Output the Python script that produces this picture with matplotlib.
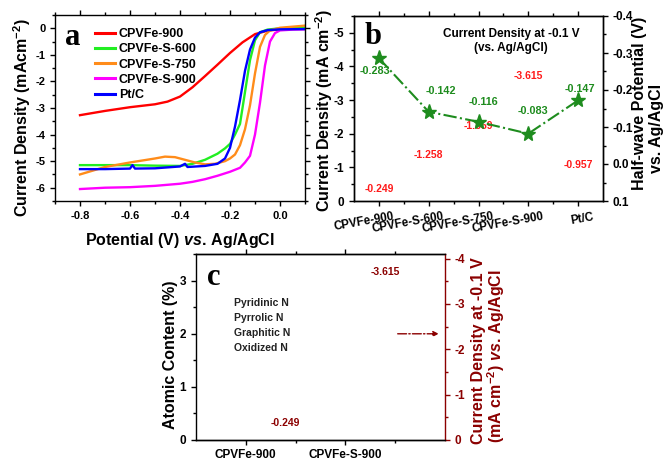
import matplotlib
matplotlib.use('Agg')
import matplotlib.pyplot as plt
from matplotlib.ticker import MultipleLocator
from matplotlib.transforms import ScaledTranslation

plt.rcParams['font.family'] = ['Liberation Sans', 'DejaVu Sans']
plt.rcParams['font.weight'] = 'bold'
plt.rcParams['axes.linewidth'] = 1.0
plt.rcParams['mathtext.fontset'] = 'custom'
plt.rcParams['mathtext.rm'] = 'Liberation Sans:bold'
plt.rcParams['mathtext.bf'] = 'Liberation Sans:bold'
plt.rcParams['mathtext.it'] = 'Liberation Sans:italic:bold'

# ---- panel a: LSV curves (potential V vs. Ag/AgCl, current mA cm-2) ----
E_900 = [-0.8, -0.7, -0.6, -0.5, -0.45, -0.4, -0.35, -0.3, -0.25, -0.2, -0.15, -0.1, -0.05, 0.0, 0.05, 0.1]
J_900 = [-3.27, -3.11, -2.97, -2.86, -2.76, -2.57, -2.22, -1.8, -1.37, -0.93, -0.53, -0.22, -0.09, -0.04, -0.01, 0.01]

E_S600 = [-0.8, -0.6, -0.5, -0.4, -0.35, -0.3, -0.25, -0.22, -0.2, -0.18, -0.16, -0.15, -0.14, -0.13, -0.12, -0.1, -0.08, -0.05, 0.0, 0.1]
J_S600 = [-5.15, -5.15, -5.17, -5.18, -5.1, -4.95, -4.72, -4.52, -4.35, -4.0, -3.6, -3.0, -2.4, -1.8, -1.2, -0.45, -0.15, -0.05, 0.0, 0.02]

E_S750 = [-0.8, -0.7, -0.6, -0.5, -0.46, -0.42, -0.38, -0.34, -0.3, -0.26, -0.22, -0.2, -0.18, -0.16, -0.14, -0.12, -0.1, -0.08, -0.06, -0.04, 0.0, 0.05, 0.1]
J_S750 = [-5.5, -5.22, -5.05, -4.9, -4.83, -4.85, -4.95, -5.05, -5.12, -5.1, -5.0, -4.9, -4.75, -4.4, -3.8, -2.9, -1.7, -0.7, -0.25, -0.08, 0.02, 0.06, 0.1]

E_S900 = [-0.8, -0.7, -0.6, -0.5, -0.4, -0.35, -0.3, -0.25, -0.2, -0.16, -0.14, -0.12, -0.1, -0.08, -0.06, -0.04, -0.02, 0.0, 0.05, 0.1]
J_S900 = [-6.05, -6.0, -5.98, -5.93, -5.85, -5.78, -5.68, -5.55, -5.4, -5.25, -5.05, -4.8, -4.0, -2.8, -1.4, -0.5, -0.18, -0.08, -0.05, -0.04]

E_PTC = [-0.8, -0.7, -0.6, -0.59, -0.58, -0.5, -0.4, -0.38, -0.37, -0.3, -0.25, -0.22, -0.2, -0.18, -0.16, -0.14, -0.12, -0.1, -0.08, -0.05, 0.0, 0.1]
J_PTC = [-5.3, -5.3, -5.28, -5.15, -5.28, -5.27, -5.2, -5.1, -5.22, -5.18, -5.1, -4.9, -4.5, -3.7, -2.7, -1.6, -0.8, -0.35, -0.15, -0.07, -0.04, -0.03]

CURVE_NAMES = ['CPVFe-900', 'CPVFe-S-600', 'CPVFe-S-750', 'CPVFe-S-900', 'Pt/C']
CURVE_COLORS = ['#ff0000', '#22ee22', '#ff8c1a', '#ff00ff', '#0000ff']

# ---- panel b: current density at -0.1 V and half-wave potential ----
SAMPLES = ['CPVFe-900', 'CPVFe-S-600', 'CPVFe-S-750', 'CPVFe-S-900', 'Pt/C']
CD_01V = [-0.249, -1.258, -1.859, -3.615, -0.957]
E_HALF = [-0.286, -0.141, -0.114, -0.082, -0.172]
E_HALF_LABELS = ['-0.283', '-0.142', '-0.116', '-0.083', '-0.147']

# ---- panel c ----
C_SAMPLES = ['CPVFe-900', 'CPVFe-S-900']
C_CD = [-0.249, -3.615]
N_TYPES = ['Pyridinic N', 'Pyrrolic N', 'Graphitic N', 'Oxidized N']

DARKRED = '#8b0000'
GREEN = '#1e8c1e'
TICK_FS = 8.5
LABEL_FS = 11.5


def ticks_box(ax, right=True):
    ax.tick_params(which='both', direction='out', width=1.0, labelsize=TICK_FS)
    ax.tick_params(which='major', length=3.5)
    ax.tick_params(which='minor', length=2)
    ax.tick_params(axis='x', which='both', top=True, labeltop=False)
    if right:
        ax.tick_params(axis='y', which='both', right=True)


fig = plt.figure(figsize=(6.66, 4.62), dpi=100)

# ------------------------------ panel a ------------------------------
ax_a = fig.add_axes([55 / 666, 1 - 201 / 462, 250 / 666, 186 / 462])
series = [(E_900, J_900), (E_S600, J_S600), (E_S750, J_S750), (E_S900, J_S900), (E_PTC, J_PTC)]
for (e, j), name, col in zip(series, CURVE_NAMES, CURVE_COLORS):
    ax_a.plot(e, j, color=col, lw=1.7, label=name)
ax_a.set_xlim(-0.9, 0.1)
ax_a.set_ylim(-6.5, 0.5)
ax_a.xaxis.set_major_locator(MultipleLocator(0.2))
ax_a.xaxis.set_minor_locator(MultipleLocator(0.1))
ax_a.yaxis.set_major_locator(MultipleLocator(1))
ax_a.yaxis.set_minor_locator(MultipleLocator(0.5))
ax_a.xaxis.set_major_formatter(plt.FuncFormatter(lambda v, p: f'{v:.1f}'))
ax_a.yaxis.set_major_formatter(plt.FuncFormatter(lambda v, p: f'{v:.0f}'))
ticks_box(ax_a)
ax_a.tick_params(which='both', labelsize=8)
ax_a.set_ylabel(r'Current Density (mAcm$^{-2}$)', fontsize=LABEL_FS, fontweight='bold')
ax_a.yaxis.set_label_coords(-0.089, 0.45)
ax_a.set_xlabel(r'$\mathrm{Potential\ (V)\ }\mathit{vs.}\mathrm{\,Ag/AgCl}$',
                fontsize=LABEL_FS, fontweight='bold')
ax_a.xaxis.set_label_coords(0.5, -0.16)
leg = ax_a.legend(loc='upper left', bbox_to_anchor=(0.16, 0.93), frameon=False,
                  fontsize=9, handlelength=1.6, handletextpad=0.3, labelspacing=0.26,
                  borderpad=0, borderaxespad=0)
for line in leg.get_lines():
    line.set_linewidth(2.2)
ax_a.text(0.07, 0.88, 'a', transform=ax_a.transAxes, family='Liberation Serif',
          fontsize=22, fontweight='bold', ha='center', va='center')

# ------------------------------ panel b ------------------------------
ax_b = fig.add_axes([354 / 666, 1 - 201 / 462, 249 / 666, 185 / 462])
xb = list(range(len(SAMPLES)))
ax_b.bar(xb, CD_01V, width=0.5, color='none', edgecolor='none')
ax_b.set_xlim(-0.5, 4.5)
ax_b.set_ylim(0, -5.5)
ax_b.yaxis.set_major_locator(MultipleLocator(1))
ax_b.yaxis.set_minor_locator(MultipleLocator(0.5))
ax_b.yaxis.set_major_formatter(plt.FuncFormatter(lambda v, p: f'{v:.0f}'))
ax_b.set_xticks(xb)
ax_b.set_xticks([i + 0.5 for i in xb[:-1]], minor=True)
ticks_box(ax_b, right=False)
ax_b.set_xticklabels(SAMPLES, rotation=10, fontsize=8.4, fontweight='bold',
                     ha='right', rotation_mode='anchor')
shift = ScaledTranslation(14 / 100, 0, fig.dpi_scale_trans)
for lab in ax_b.get_xticklabels():
    lab.set_transform(lab.get_transform() + shift)
ax_b.set_ylabel(r'Current Density (mA cm$^{-2}$)', fontsize=LABEL_FS, fontweight='bold')
ax_b.yaxis.set_label_coords(-0.076, 0.49)
red_offsets = [2.6, 2.6, 9.2, 2.8, 2.5]
for xi, v, dy in zip(xb, CD_01V, red_offsets):
    ax_b.annotate(f'{v:.3f}', (xi, v), xytext=(0, dy), textcoords='offset points',
                  ha='center', va='center', color='#ff1a1a', fontsize=7.5, fontweight='bold')
ax_b.text(0.63, 0.905, 'Current Density at -0.1 V', transform=ax_b.transAxes,
          ha='center', va='center', fontsize=8.5, fontweight='bold')
ax_b.text(0.63, 0.825, '(vs. Ag/AgCl)', transform=ax_b.transAxes,
          ha='center', va='center', fontsize=8.5, fontweight='bold')
ax_b.text(0.078, 0.89, 'b', transform=ax_b.transAxes, family='Liberation Serif',
          fontsize=22, fontweight='bold', ha='center', va='center')

ax_b2 = ax_b.twinx()
ax_b2.plot(xb, E_HALF, color=GREEN, lw=1.5, ls='-.', marker='*', ms=11)
ax_b2.set_ylim(0.1, -0.4)
ax_b2.yaxis.set_major_locator(MultipleLocator(0.1))
ax_b2.yaxis.set_minor_locator(MultipleLocator(0.05))
ax_b2.yaxis.set_major_formatter(plt.FuncFormatter(lambda v, p: f'{v:.1f}'))
ax_b2.tick_params(which='both', direction='out', width=1.0, labelsize=TICK_FS)
ax_b2.tick_params(which='major', length=3.5)
ax_b2.tick_params(which='minor', length=2)
green_offsets = [(-3, -9), (9, 15), (3.5, 14.5), (3, 16.5), (1.5, 8.5)]
for xi, v, lab, (dx, dy) in zip(xb, E_HALF, E_HALF_LABELS, green_offsets):
    ax_b2.annotate(lab, (xi, v), xytext=(dx, dy), textcoords='offset points',
                   ha='center', va='center', color=GREEN, fontsize=7.8, fontweight='bold')
ax_b.text(1.147, 0.53, 'Half-wave Potential (V)', transform=ax_b.transAxes, rotation=90,
          ha='center', va='center', fontsize=LABEL_FS, fontweight='bold')
ax_b.text(1.213, 0.39, 'vs. Ag/AgCl', transform=ax_b.transAxes, rotation=90,
          ha='center', va='center', fontsize=LABEL_FS, fontweight='bold')

# ------------------------------ panel c ------------------------------
ax_c = fig.add_axes([196 / 666, 1 - 440 / 462, 249 / 666, 186 / 462])
ax_c.set_xlim(-0.5, 2.0)
ax_c.set_ylim(0, 3.5)
ax_c.set_xticks([0, 1])
ax_c.set_xticks([0.5, 1.5], minor=True)
ax_c.set_xticklabels(C_SAMPLES, fontsize=8.5, fontweight='bold')
ax_c.yaxis.set_major_locator(MultipleLocator(1))
ax_c.yaxis.set_minor_locator(MultipleLocator(0.5))
ticks_box(ax_c, right=False)
ax_c.tick_params(axis='x', which='major', pad=3)
ax_c.spines['right'].set_visible(False)
ax_c.set_ylabel('Atomic Content (%)', fontsize=LABEL_FS, fontweight='bold')
ax_c.yaxis.set_label_coords(-0.072, 0.46)
for i, name in enumerate(N_TYPES):
    ax_c.text(0.153, 0.735 - i * 0.08, name, transform=ax_c.transAxes,
              ha='left', va='center', fontsize=7.5, fontweight='bold', color='#222222')
ax_c.text(0.07, 0.875, 'c', transform=ax_c.transAxes, family='Liberation Serif',
          fontsize=22, fontweight='bold', ha='center', va='center')

ax_c2 = ax_c.twinx()
xc = [i + 0.4 for i in range(len(C_SAMPLES))]
ax_c2.bar(xc, C_CD, width=0.3, color='none', edgecolor='none')
ax_c2.set_ylim(0, -4.1)
ax_c2.yaxis.set_major_locator(MultipleLocator(1))
ax_c2.yaxis.set_minor_locator(MultipleLocator(0.5))
ax_c2.yaxis.set_major_formatter(plt.FuncFormatter(lambda v, p: f'{v:.0f}'))
ax_c2.spines['right'].set_color(DARKRED)
ax_c2.spines['left'].set_visible(False)
ax_c2.tick_params(which='both', direction='out', width=1.0, labelsize=TICK_FS,
                  colors=DARKRED)
ax_c2.tick_params(which='major', length=3.5)
ax_c2.tick_params(which='minor', length=2)
for xi, v, dy in zip(xc, C_CD, [4.2, 3.0]):
    ax_c2.annotate(f'{v:.3f}', (xi, v), xytext=(0, dy), textcoords='offset points',
                   ha='center', va='center', color=DARKRED, fontsize=7.5, fontweight='bold')
ax_c2.annotate('', xy=(0.975, 0.571), xytext=(0.81, 0.571), xycoords='axes fraction',
               arrowprops=dict(arrowstyle='-|>', color=DARKRED, lw=1.0, ls='-.',
                               mutation_scale=8, shrinkA=0, shrinkB=0))
ax_c.text(1.133, 0.48, 'Current Density at -0.1 V', transform=ax_c.transAxes, rotation=90,
          ha='center', va='center', fontsize=LABEL_FS, fontweight='bold', color=DARKRED)
ax_c.text(1.205, 0.45, r'$\mathrm{(mA\ cm^{-2})\ }\mathit{vs.}\mathrm{\,Ag/AgCl}$',
          transform=ax_c.transAxes, rotation=90, ha='center', va='center',
          fontsize=LABEL_FS, fontweight='bold', color=DARKRED)

fig.savefig('out.png', dpi=100, facecolor='white')
